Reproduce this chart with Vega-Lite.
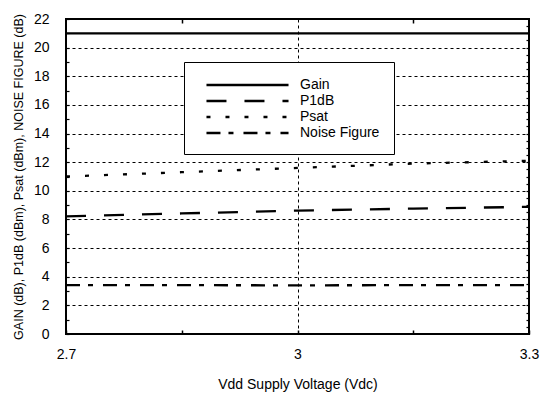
{
  "$schema": "https://vega.github.io/schema/vega-lite/v6.json",
  "width": 463,
  "height": 315,
  "autosize": {"type": "none"},
  "padding": {"left": 66, "top": 19, "right": 11, "bottom": 66},
  "background": "white",
  "config": {
    "view": {"stroke": "black", "strokeWidth": 2},
    "font": "Liberation Sans",
    "axis": {"labelFont": "Liberation Sans", "titleFont": "Liberation Sans", "titleFontWeight": "normal", "labelColor": "black", "titleColor": "black"},
    "legend": {
      "orient": "none", "legendX": 118, "legendY": 43,
      "strokeColor": "black", "fillColor": "white", "padding": 14,
      "symbolType": "M-0.07,0H10.87", "symbolSize": 225, "symbolStrokeWidth": 2.5,
      "symbolStrokeColor": "black", "labelFont": "Liberation Sans", "labelFontSize": 14,
      "labelColor": "black", "labelOffset": 84, "rowPadding": 0, "labelLimit": 200
    }
  },
  "data": {"values": [
    {"v": 2.7, "val": 21.0, "series": "Gain"},
    {"v": 3.0, "val": 21.0, "series": "Gain"},
    {"v": 3.3, "val": 21.0, "series": "Gain"},
    {"v": 2.7, "val": 8.22, "series": "P1dB"},
    {"v": 2.85, "val": 8.42, "series": "P1dB"},
    {"v": 3.0, "val": 8.62, "series": "P1dB"},
    {"v": 3.15, "val": 8.76, "series": "P1dB"},
    {"v": 3.3, "val": 8.88, "series": "P1dB"},
    {"v": 2.7, "val": 11.0, "series": "Psat"},
    {"v": 2.85, "val": 11.3, "series": "Psat"},
    {"v": 3.0, "val": 11.6, "series": "Psat"},
    {"v": 3.15, "val": 11.9, "series": "Psat"},
    {"v": 3.3, "val": 12.1, "series": "Psat"},
    {"v": 2.7, "val": 3.42, "series": "Noise Figure"},
    {"v": 3.0, "val": 3.4, "series": "Noise Figure"},
    {"v": 3.3, "val": 3.42, "series": "Noise Figure"}
  ]},
  "layer": [
    {
      "mark": {"type": "line", "color": "black", "strokeWidth": 2.3, "clip": true},
      "encoding": {
        "x": {"field": "v", "type": "quantitative",
          "scale": {"domain": [2.7, 3.3], "nice": false, "zero": false},
          "axis": {"orient": "bottom", "values": [2.7, 2.85, 3.0, 3.15, 3.3],
            "labelExpr": "(abs(datum.value-2.85)<0.001 || abs(datum.value-3.15)<0.001) ? '' : datum.label",
            "format": "~g", "labelFontSize": 14, "labelPadding": 17, "tickSize": -4, "tickColor": "black", "tickWidth": 1.5,
            "domain": false, "labelFlush": false,
            "grid": true, "gridColor": "black", "gridDash": [3, 3], "gridWidth": 1,
            "gridOpacity": {"condition": {"test": "abs(datum.value-3.0)<0.001", "value": 1}, "value": 0},
            "title": "Vdd Supply Voltage (Vdc)", "titleFontSize": 14, "titlePadding": 16}},
        "y": {"field": "val", "type": "quantitative",
          "scale": {"domain": [0, 22], "nice": false},
          "axis": {"orient": "left",
            "values": [0,0.5,1,1.5,2,2.5,3,3.5,4,4.5,5,5.5,6,6.5,7,7.5,8,8.5,9,9.5,10,10.5,11,11.5,12,12.5,13,13.5,14,14.5,15,15.5,16,16.5,17,17.5,18,18.5,19,19.5,20,20.5,21,21.5,22],
            "format": "d",
            "labelExpr": "datum.value % 2 === 0 ? datum.label : ''",
            "labelFontSize": 14, "labelPadding": 20, "tickSize": -3, "tickColor": "black", "tickWidth": 1.2,
            "domain": false,
            "grid": true, "gridColor": "black", "gridDash": [3, 3], "gridWidth": 1,
            "gridOpacity": {"condition": {"test": "datum.value % 2 === 0 && datum.value > 0 && datum.value < 22", "value": 1}, "value": 0},
            "title": "GAIN (dB), P1dB (dBm), Psat (dBm), NOISE FIGURE (dB)", "titleFontSize": 12.5, "titlePadding": 8}},
        "strokeDash": {"field": "series", "type": "nominal",
          "scale": {"domain": ["Gain", "P1dB", "Psat", "Noise Figure"],
            "range": [[1, 0], [20, 18], [4, 15], [14, 8, 5, 10]]},
          "legend": {"title": null}}
      }
    },
    {
      "mark": {"type": "line", "opacity": 0},
      "encoding": {
        "x": {"field": "v", "type": "quantitative",
          "scale": {"domain": [2.7, 3.3], "nice": false, "zero": false},
          "axis": {"orient": "top", "values": [2.85, 3.15], "labels": false, "tickSize": -4, "tickColor": "black", "tickWidth": 1.5, "domain": false, "grid": false, "title": null}},
        "y": {"field": "val", "type": "quantitative",
          "scale": {"domain": [0, 22], "nice": false},
          "axis": {"orient": "right",
            "values": [0.5,1,1.5,2,2.5,3,3.5,4,4.5,5,5.5,6,6.5,7,7.5,8,8.5,9,9.5,10,10.5,11,11.5,12,12.5,13,13.5,14,14.5,15,15.5,16,16.5,17,17.5,18,18.5,19,19.5,20,20.5,21,21.5],
            "labels": false, "tickSize": -3, "tickColor": "black", "tickWidth": 1.2, "domain": false, "grid": false, "title": null}},
        "detail": {"field": "series"}
      }
    }
  ],
  "resolve": {"axis": {"x": "independent", "y": "independent"}}
}
